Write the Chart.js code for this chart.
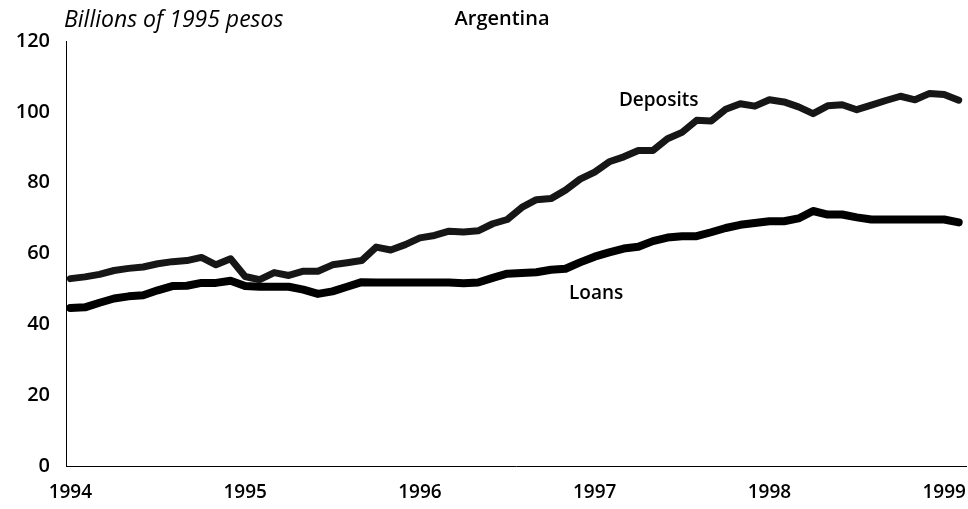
<!DOCTYPE html>
<html>
<head>
<meta charset="utf-8">
<script src="https://cdn.jsdelivr.net/npm/chart.js@4/dist/chart.umd.min.js"></script>
<style>
  html, body { margin: 0; background: #fff; }
  #wrap { width: 968px; height: 509px; }
</style>
</head>
<body>
<div id="wrap"><canvas id="chart" width="968" height="509"></canvas></div>
<script>
// Monthly, Jan 1994 .. Feb 1999 (index = months since Jan 1994)
const yearLabels = ['1994', '1995', '1996', '1997', '1998', '1999'];

const deposits = [
  52.9, 53.4, 54.1, 55.2, 55.8, 56.2, 57.1, 57.7, 58.0, 58.9,
  56.8, 58.5, 53.5, 52.6, 54.6, 53.8, 55.0, 55.0, 56.8, 57.4,
  58.0, 61.8, 61.0, 62.5, 64.4, 65.1, 66.3, 66.1, 66.4, 68.4,
  69.6, 73.0, 75.2, 75.5, 77.9, 81.0, 83.0, 85.9, 87.3, 89.1,
  89.1, 92.4, 94.2, 97.6, 97.4, 100.7, 102.3, 101.6, 103.4, 102.8,
  101.4, 99.5, 101.7, 102.0, 100.6, 101.9, 103.2, 104.4, 103.4, 105.2,
  104.9, 103.3
];

const loans = [
  44.6, 44.8, 46.1, 47.3, 47.9, 48.2, 49.6, 50.8, 50.9, 51.7,
  51.7, 52.3, 50.8, 50.6, 50.6, 50.6, 49.8, 48.6, 49.3, 50.6,
  51.9, 51.8, 51.8, 51.8, 51.8, 51.8, 51.8, 51.6, 51.8, 53.1,
  54.3, 54.5, 54.7, 55.4, 55.7, 57.5, 59.1, 60.3, 61.4, 61.9,
  63.5, 64.5, 64.9, 64.9, 66.0, 67.2, 68.1, 68.6, 69.1, 69.1,
  69.9, 72.0, 71.0, 71.0, 70.2, 69.6, 69.6, 69.6, 69.6, 69.6,
  69.6, 68.8
];

// series labels placed next to the lines (month index, value)
const seriesNotes = [
  { text: 'Deposits', at: [40.4, 103.3] },
  { text: 'Loans', at: [36.1, 48.8] }
];

const FONT = '"Open Sans", "DejaVu Sans", sans-serif';

const textPlugin = {
  id: 'texts',
  afterDraw(chart) {
    const ctx = chart.ctx;
    const xs = chart.scales.x, ys = chart.scales.y;
    ctx.save();
    ctx.fillStyle = '#000';
    ctx.textBaseline = 'middle';

    ctx.font = 'italic 23px ' + FONT;
    ctx.textAlign = 'left';
    ctx.fillText('Billions of 1995 pesos', 64, 20);

    ctx.font = '600 20px ' + FONT;
    ctx.textAlign = 'center';
    ctx.fillText('Argentina', 502, 19);

    ctx.font = '600 19px ' + FONT;
    seriesNotes.forEach(n => {
      ctx.fillText(n.text, xs.getPixelForValue(n.at[0]), ys.getPixelForValue(n.at[1]));
    });
    ctx.restore();
  }
};

const toPoints = arr => arr.map((v, i) => ({ x: i, y: v }));

new Chart(document.getElementById('chart'), {
  type: 'line',
  data: {
    datasets: [
      {
        label: 'Deposits',
        data: toPoints(deposits),
        borderColor: '#161616',
        borderWidth: 7,
        pointRadius: 0,
        tension: 0,
        borderCapStyle: 'round',
        borderJoinStyle: 'round'
      },
      {
        label: 'Loans',
        data: toPoints(loans),
        borderColor: '#000',
        borderWidth: 8,
        pointRadius: 0,
        tension: 0,
        borderCapStyle: 'round',
        borderJoinStyle: 'round'
      }
    ]
  },
  options: {
    responsive: false,
    animation: false,
    devicePixelRatio: 1,
    layout: { padding: { top: 41, right: 2, left: 0, bottom: 0 } },
    plugins: { legend: { display: false }, tooltip: { enabled: false } },
    scales: {
      x: {
        type: 'linear',
        min: -0.3,
        max: 61.5,
        grid: { display: false, drawTicks: false },
        border: { color: '#000', width: 1 },
        ticks: {
          padding: 15,
          color: '#000',
          font: { family: FONT, size: 19, weight: '600' },
          autoSkip: false,
          maxRotation: 0,
          callback: v => yearLabels[v / 12]
        },
        afterBuildTicks: s => { s.ticks = yearLabels.map((t, i) => ({ value: i * 12 })); },
        afterFit: s => { s.height = 43; s.paddingLeft = 0; s.paddingRight = 0; }
      },
      y: {
        min: 0,
        max: 120,
        grid: { display: false, drawTicks: false },
        border: { color: '#000', width: 1 },
        ticks: {
          stepSize: 20,
          padding: 16,
          color: '#000',
          font: { family: FONT, size: 20, weight: '600' }
        },
        afterFit: s => { s.width = 66; s.paddingTop = 0; s.paddingBottom = 0; }
      }
    }
  },
  plugins: [textPlugin]
});
</script>
</body>
</html>
